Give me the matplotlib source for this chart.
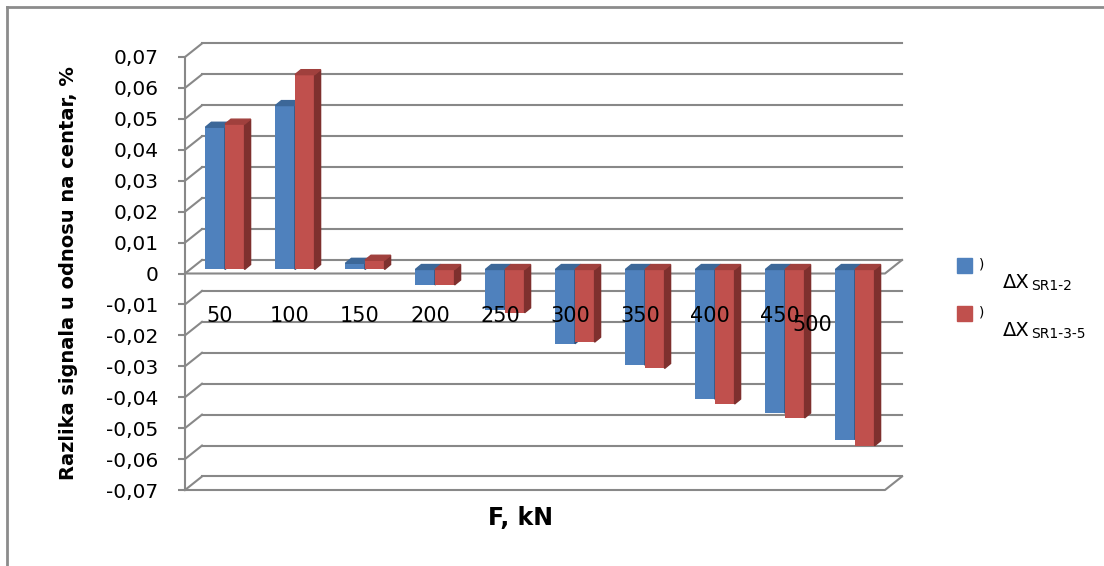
import numpy as np
import matplotlib.pyplot as plt
from matplotlib.patches import Polygon
from matplotlib.lines import Line2D

# Data
force = ['50', '100', '150', '200', '250', '300', '350', '400', '450', '500']
dx_sr12 = [0.046, 0.053, 0.002, -0.005, -0.013, -0.024, -0.031, -0.042, -0.0465, -0.055]
dx_sr135 = [0.047, 0.063, 0.003, -0.005, -0.014, -0.0235, -0.032, -0.0435, -0.048, -0.057]
yticks = np.round(np.arange(-0.07, 0.0701, 0.01), 2)

# Colours (front, side, top)
blue = ('#4F81BD', '#30507A', '#3C6798')
red = ('#C0504D', '#7E302E', '#A0403D')
grid = '#888888'

# Pseudo-3D geometry (in data units)
wall_dx, wall_dy = 0.243, 0.00437   # back wall offset
bar_sx, bar_sy = 0.071, 0.0013      # bar offset from the front plane
bar_dx, bar_dy = 0.086, 0.0016      # bar depth
width = 0.28

fig = plt.figure(figsize=(11.04, 5.66), dpi=100)
ax = fig.add_axes([185 / 1104, 76 / 566, 700 / 1104, 433 / 566])
ax.set_xlim(0, 10)
ax.set_ylim(-0.07, 0.07)
for s in ['top', 'right', 'bottom']:
    ax.spines[s].set_visible(False)
ax.spines['left'].set_color(grid)
ax.spines['left'].set_linewidth(1.5)
ax.set_xticks([])
ax.set_yticks(yticks)
ax.set_yticklabels(['0' if v == 0 else f'{v:.2f}'.replace('.', ',') for v in yticks],
                   fontsize=14.5)
ax.tick_params(axis='y', length=5, width=1.5, color=grid, pad=14)
ax.patch.set_visible(False)

# back wall gridlines + left wall diagonals
for v in yticks:
    ax.plot([wall_dx, 10 + wall_dx], [v + wall_dy, v + wall_dy], color=grid, lw=1.5,
            zorder=1, clip_on=False)
    ax.plot([0, wall_dx], [v, v + wall_dy], color=grid, lw=1.5, zorder=1, clip_on=False)

# zero plane front edge and floor
for v in [0, -0.07]:
    ax.plot([0, 10, 10 + wall_dx], [v, v, v + wall_dy], color=grid, lw=1.5,
            zorder=1.5, clip_on=False)

# bars
x = np.arange(len(force))
for vals, cols, off in [(dx_sr12, blue, -width), (dx_sr135, red, 0.0)]:
    x0 = x + 0.5 + off + bar_sx
    ax.bar(x0, vals, width=width, bottom=bar_sy, align='edge', color=cols[0],
           zorder=3, clip_on=False)
    for xi, v in zip(x0, vals):
        x1 = xi + width
        y_top = max(v, 0) + bar_sy
        side = [(x1, bar_sy), (x1 + bar_dx, bar_sy + bar_dy),
                (x1 + bar_dx, v + bar_sy + bar_dy), (x1, v + bar_sy)]
        top = [(xi, y_top), (x1, y_top), (x1 + bar_dx, y_top + bar_dy),
               (xi + bar_dx, y_top + bar_dy)]
        ax.add_patch(Polygon(side, closed=True, color=cols[1], zorder=3, clip_on=False))
        ax.add_patch(Polygon(top, closed=True, color=cols[2], zorder=3, clip_on=False))

# category labels (last one sits out of line, as in the original)
for i, lab in enumerate(force):
    lx, ly = (i + 0.5, -0.0138) if i < len(force) - 1 else (i - 0.04, -0.0165)
    ax.text(lx, ly, lab, ha='center', va='center', fontsize=15, zorder=5)

ax.set_ylabel('Razlika signala u odnosu na centar, %', fontsize=14, fontweight='bold',
              labelpad=20)
fig.text(520 / 1104, 1 - 518 / 566, 'F, kN', ha='center', va='center', fontsize=17,
         fontweight='bold')

# legend
for (cols, sub), yy in zip([(blue, 'SR1-2'), (red, 'SR1-3-5')], [265, 313]):
    fig.patches.append(plt.Rectangle((957 / 1104, 1 - (yy + 8) / 566), 15 / 1104, 15 / 566,
                                     color=cols[0], transform=fig.transFigure))
    fig.text(979 / 1104, 1 - yy / 566, ')', fontsize=10, va='center')
    fig.text(1003 / 1104, 1 - (yy + 17) / 566, 'ΔX', fontsize=14, va='center')
    fig.text(1031 / 1104, 1 - (yy + 21) / 566, sub, fontsize=10, va='center')

# chart frame (only top and left edges visible)
fig.add_artist(Line2D([7 / 1104, 1], [1 - 7 / 566, 1 - 7 / 566], color='#8C8C8C', lw=2,
                      transform=fig.transFigure))
fig.add_artist(Line2D([7 / 1104, 7 / 1104], [0, 1 - 7 / 566], color='#8C8C8C', lw=2,
                      transform=fig.transFigure))

fig.savefig('out.png', dpi=100)
